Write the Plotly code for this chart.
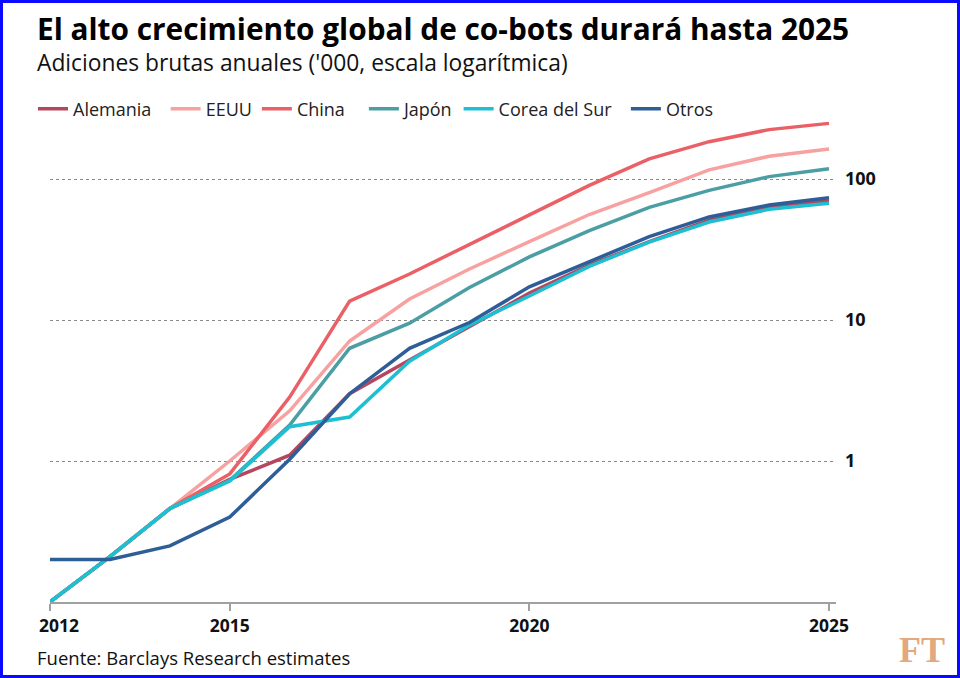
import plotly.graph_objects as go

years = list(range(2012, 2026))
alemania = [0.1, 0.21, 0.46, 0.74, 1.1, 3.0, 5.2, 9.0, 15.5, 24.5, 36, 51, 63, 70]
eeuu = [0.1, 0.21, 0.46, 1.0, 2.27, 7.1, 14.1, 23, 36, 56, 80, 116, 145, 163]
china = [0.1, 0.21, 0.46, 0.81, 2.84, 13.6, 21.2, 34.6, 55.6, 90, 139, 184, 224, 248]
japon = [0.1, 0.21, 0.46, 0.73, 1.8, 6.3, 9.5, 17, 28, 43, 63, 83, 104, 118]
corea = [0.1, 0.21, 0.46, 0.72, 1.75, 2.05, 5.1, 9.2, 14.8, 24, 35.7, 49.5, 61, 67.3]
otros = [0.2, 0.2, 0.25, 0.40, 1.03, 3.0, 6.3, 9.6, 17.2, 26, 39, 53.8, 65.4, 73.7]

series_names = ["Alemania", "EEUU", "China", "Japón", "Corea del Sur", "Otros"]
series_values = [alemania, eeuu, china, japon, corea, otros]
colors = ["#b4475f", "#f7a1a0", "#ea6066", "#4a9ea4", "#1dc0d2", "#2e5e98"]
legend_pad = [2, 0, 3, 0, 2, 0]  # trailing non-breaking spaces for legend spacing

x_ticks = [2012, 2015, 2020, 2025]
x_ticktext = ["\u00a0\u00a0\u00a0\u00a02012", "2015", "2020", "2025"]
y_ticks = [1, 10, 100]
y_ticktext = ["1", "10", "100"]

FONT = "Open Sans, Noto Sans, sans-serif"
W, H = 960, 678
L, R, T, B = 50, 124, 120, 76
PW, PH = W - L - R, H - T - B


def px(xp):
    return (xp - L) / PW


def py(yp):
    return (H - B - yp) / PH


fig = go.Figure()
for name, vals, col, pad in zip(series_names, series_values, colors, legend_pad):
    fig.add_trace(go.Scatter(
        x=years, y=vals, mode="lines", name=name + "\u00a0" * pad,
        line=dict(color=col, width=3.5),
        hoverinfo="skip",
    ))

fig.update_layout(
    width=W, height=H,
    margin=dict(l=L, r=R, t=T, b=B),
    paper_bgcolor="white", plot_bgcolor="white",
    font=dict(family=FONT, color="#111111"),
    showlegend=True,
    legend=dict(
        orientation="h", x=px(33), xanchor="left", y=py(109), yanchor="middle",
        font=dict(size=18, color="#222222", family=FONT),
        bgcolor="rgba(0,0,0,0)", borderwidth=0, tracegroupgap=0,
        itemwidth=30,
    ),
    xaxis=dict(
        range=[2012, 2025 + 7 / 59.92],
        tickvals=x_ticks, ticktext=x_ticktext,
        showgrid=False, zeroline=False,
        showline=True, linecolor="#a0a0a0", linewidth=2,
        ticks="outside", ticklen=7, tickwidth=1.5, tickcolor="#a0a0a0",
        tickfont=dict(size=17.5, family="Open Sans, sans-serif", color="#111111", weight="bold"),
    ),
    yaxis=dict(
        type="log", range=[-1, -1 + PH / 141],
        side="right",
        tickvals=y_ticks, ticktext=y_ticktext,
        showgrid=True, gridcolor="#8a8a8a", gridwidth=1.3, griddash="dot",
        zeroline=False, showline=False, ticks="",
        ticklabelstandoff=8,
        tickfont=dict(size=18, family="Open Sans, sans-serif", color="#111111", weight="bold"),
    ),
)

annotations = [
    dict(text="<b>El alto crecimiento global de co-bots durará hasta 2025</b>",
         x=px(35), y=py(28.5), xanchor="left", yanchor="middle",
         font=dict(size=29.8, family=FONT, color="#000000")),
    dict(text="Adiciones brutas anuales ('000, escala logarítmica)",
         x=px(35), y=py(63), xanchor="left", yanchor="middle",
         font=dict(size=22.8, family=FONT, color="#111111")),
    dict(text="Fuente: Barclays Research estimates",
         x=px(35), y=py(657), xanchor="left", yanchor="middle",
         font=dict(size=18.5, family=FONT, color="#111111")),
    dict(text="<b>FT</b>",
         x=px(922), y=py(650), xanchor="center", yanchor="middle",
         font=dict(size=36, family="Liberation Serif, DejaVu Serif, serif", color="#e2a880")),
]
for a in annotations:
    a.update(xref="paper", yref="paper", showarrow=False)
fig.update_layout(annotations=annotations)

fig.add_shape(type="rect", xref="paper", yref="paper",
              x0=px(1.5), x1=px(958.5), y0=py(676.5), y1=py(1.5),
              line=dict(color="#0a0aff", width=3), fillcolor="rgba(0,0,0,0)", layer="above")

fig.write_html("out.html")
